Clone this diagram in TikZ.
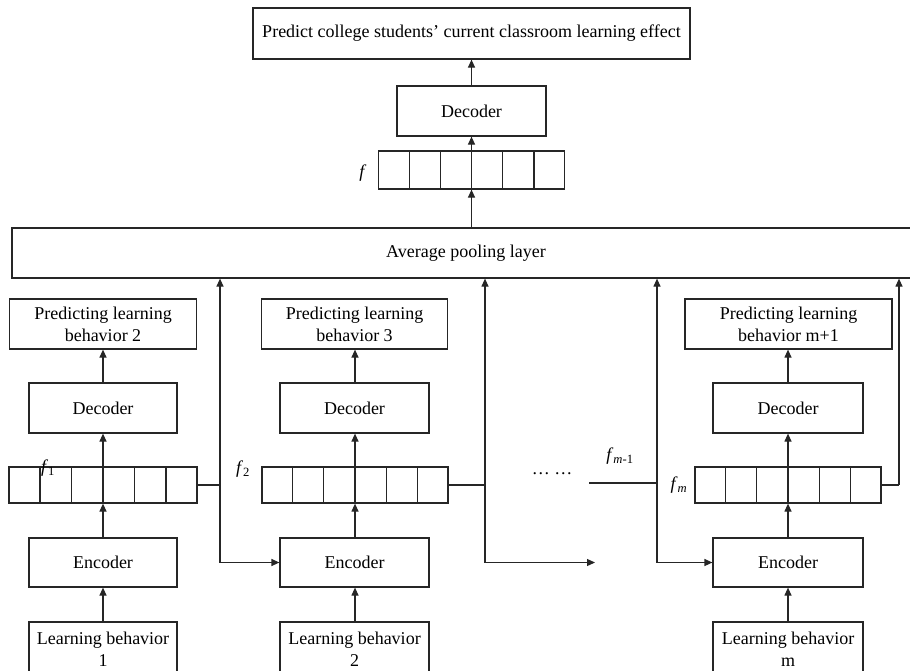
\documentclass[tikz,border=0pt]{standalone}
\usepackage{fontspec}
\setmainfont{Liberation Serif}
\usetikzlibrary{arrows.meta,calc}
\tikzset{
  stroke/.style={draw=black!85, line width=1.2pt},
  blk/.style={stroke, rectangle, inner sep=0pt, align=center, font=\fontsize{18}{22}\selectfont},
  vecbox/.style={stroke, rectangle, inner sep=0pt, minimum height=36pt},
  arr/.style={stroke, -{Triangle[length=8pt,width=7pt]}},
  lbl/.style={inner sep=0pt, font=\fontsize{18}{22}\selectfont}
}
\newcommand{\cells}[1]{%
  \foreach \i in {1,...,5}{\draw[stroke] ($(#1.south west)!\i/6!(#1.south east)$) -- ($(#1.north west)!\i/6!(#1.north east)$);}}
\begin{document}
\begin{tikzpicture}[x=1pt,y=-1pt]
\useasboundingbox (0,0) rectangle (910,670);
% top part
\node[blk, minimum width=437pt, minimum height=51pt] (top) at (471.5,33.5) {Predict college students’ current classroom learning effect};
\node[blk, minimum width=149pt, minimum height=50pt] (dectop) at (471.5,111) {Decoder};
\node[vecbox, minimum width=186pt, minimum height=38pt] (fv) at (471.5,170) {};
\cells{fv}
\node[lbl] (flab) at (363,173) {\textit{f}};
\node[blk, minimum width=908pt, minimum height=50pt] (pool) at (466,253) {Average pooling layer};
\draw[arr] (pool.north -| fv.south) -- (fv.south);
\draw[arr] (fv.north) -- (dectop.south);
\draw[arr] (dectop.north) -- (top.south);
% column 1
\node[blk, minimum width=187pt, minimum height=50pt] (p1) at (103,324) {Predicting learning\\behavior 2};
\node[blk, minimum width=148pt, minimum height=50pt] (d1) at (103,408) {Decoder};
\node[vecbox, minimum width=188pt] (v1) at (103,485) {};
\cells{v1}
\node[blk, minimum width=148pt, minimum height=49pt] (e1) at (103,562.5) {Encoder};
\node[blk, minimum width=148pt, minimum height=54pt] (l1) at (103,649) {Learning behavior\\1};
\node[lbl] (f1lab) at (48,468) {\textit{f}\textsubscript{1}};
% column 2
\node[blk, minimum width=186pt, minimum height=50pt] (p2) at (354.5,324) {Predicting learning\\behavior 3};
\node[blk, minimum width=149pt, minimum height=50pt] (d2) at (354.5,408) {Decoder};
\node[vecbox, minimum width=186pt] (v2) at (355,485) {};
\cells{v2}
\node[blk, minimum width=149pt, minimum height=49pt] (e2) at (354.5,562.5) {Encoder};
\node[blk, minimum width=149pt, minimum height=54pt] (l2) at (354.5,649) {Learning behavior\\2};
\node[lbl] (f2lab) at (243,469) {\textit{f}\textsubscript{2}};
% column m
\node[blk, minimum width=207pt, minimum height=50pt] (pm) at (788.5,324) {Predicting learning\\behavior m+1};
\node[blk, minimum width=150pt, minimum height=50pt] (dm) at (788,408) {Decoder};
\node[vecbox, minimum width=186pt] (vm) at (788,485) {};
\cells{vm}
\node[blk, minimum width=150pt, minimum height=49pt] (em) at (788,562.5) {Encoder};
\node[blk, minimum width=150pt, minimum height=54pt] (lm) at (788,649) {Learning behavior\\m};
\node[lbl] (fmlab) at (679,485) {\textit{f}\textsubscript{\textit{m}}};
\node[lbl] (fm1lab) at (620,456) {\textit{f}\textsubscript{\textit{m}-1}};
\node[lbl] (dots) at (552,474) {… …};
% vertical chains
\foreach \c in {1,2,m}{
  \draw[arr] (l\c.north -| v\c.center) -- (e\c.south -| v\c.center);
  \draw[arr] (e\c.north -| v\c.center) -- (v\c.south);
  \draw[arr] (v\c.north) -- (d\c.south -| v\c.center);
  \draw[arr] (d\c.north -| v\c.center) -- (p\c.south -| v\c.center);
}
% connectors
\coordinate (j1) at (220,485);
\coordinate (j2) at (485,485);
\coordinate (j3) at (657,483);
\coordinate (j3s) at (589,483);
\coordinate (jm) at (899,485);
\coordinate (free2) at (595,562.5);
\draw[stroke] (v1.east) -- (j1);
\draw[arr] (j1) -- (j1 |- pool.south);
\draw[arr] (j1) |- (e2.west);
\draw[stroke] (v2.east) -- (j2);
\draw[arr] (j2) -- (j2 |- pool.south);
\draw[arr] (j2) |- (free2);
\draw[stroke] (j3s) -- (j3);
\draw[arr] (j3) -- (j3 |- pool.south);
\draw[arr] (j3) |- (em.west);
\draw[stroke] (vm.east) -- (jm);
\draw[arr] (jm) -- (jm |- pool.south);
\end{tikzpicture}
\end{document}
